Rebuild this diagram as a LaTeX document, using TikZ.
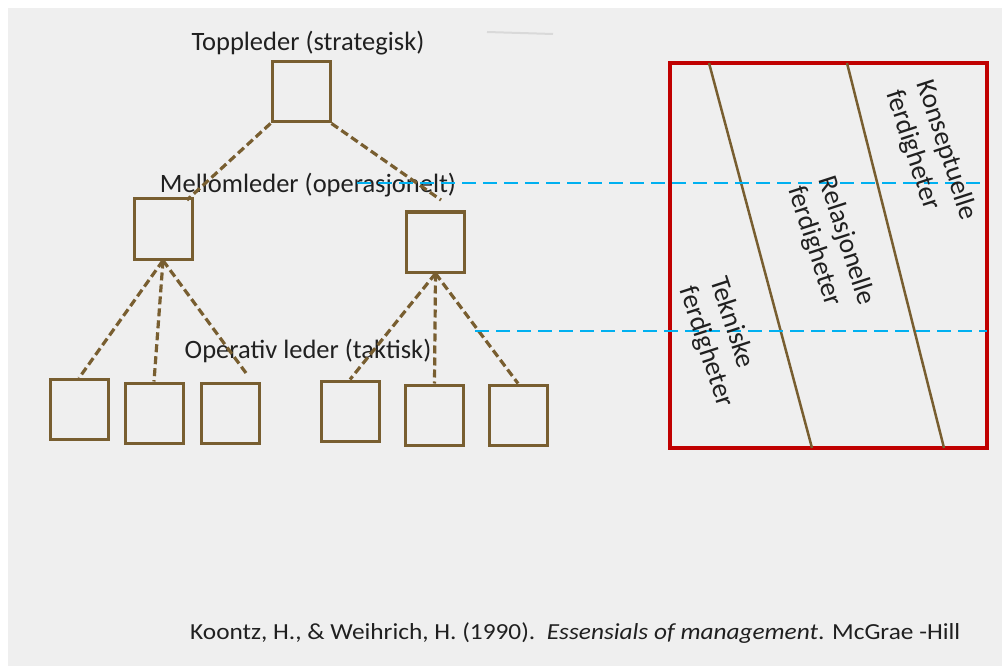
\documentclass[tikz,border=0pt]{standalone}
\usepackage{fontspec}
\setmainfont{Carlito}
\definecolor{bgc}{HTML}{EFEFEF}
\definecolor{brownln}{HTML}{785E30}
\definecolor{skyln}{HTML}{00B0F0}
\definecolor{redframe}{HTML}{C00000}
\definecolor{txt}{HTML}{202020}
\tikzset{
  orgbox/.style={draw=brownln, line width=3pt, minimum width=58pt, minimum height=60pt, inner sep=0pt},
  link/.style={draw=brownln, line width=3.2pt, dash pattern=on 8pt off 4pt},
  levelline/.style={draw=skyln, line width=2pt, dash pattern=on 14pt off 7pt},
  divider/.style={draw=brownln, line width=2.5pt},
  lbl/.style={text=txt, font=\fontsize{26.5}{31}\selectfont, inner sep=0pt},
  skill/.style={text=txt, font=\fontsize{27.5}{32}\selectfont, align=left, rotate=-72, inner sep=0pt}
}
\begin{document}
\begin{tikzpicture}[x=1pt,y=-1pt]
\useasboundingbox (0,0) rectangle (1002,666);
\fill[bgc] (8,8) rectangle (1002,666);
% faint stroke near the top
\draw[line width=2pt, color=black!15] (487,32) -- (553,34);

% level labels
\node[lbl] (ltop) at (308,43) {Toppleder (strategisk)};
\node[lbl] (lmid) at (308,185) {Mellomleder (operasjonelt)};
\node[lbl] (lop) at (308,351) {Operativ leder (taktisk)};

% organisation boxes
\node[orgbox] (top) at (301,92) {};
\node[orgbox] (mL) at (163,229) {};
\node[orgbox] (mR) at (435.5,242) {};
\node[orgbox] (b1) at (79,409.5) {};
\node[orgbox] (b2) at (154,413) {};
\node[orgbox] (b3) at (230.5,413) {};
\node[orgbox] (b4) at (350,411) {};
\node[orgbox] (b5) at (434.5,415) {};
\node[orgbox] (b6) at (518,415) {};

% free ends of some links
\coordinate (eL) at (187,200);
\coordinate (eR) at (441,200);
\coordinate (e3) at (246,373);

% dashed links
\draw[link] (top.south west) -- (eL);
\draw[link] (top.south east) -- (eR);
\draw[link] (mL.south) -- (b1.north);
\draw[link] (mL.south) -- (b2.north);
\draw[link] (mL.south) -- (e3);
\draw[link] (mR.south) -- (b4.north);
\draw[link] (mR.south) -- (b5.north);
\draw[link] (mR.south) -- (b6.north);

% skills frame
\node[draw=redframe, line width=4pt, minimum width=317pt, minimum height=385pt, inner sep=0pt] (frame) at (828.5,255.5) {};
\coordinate (d1a) at (709,63);
\coordinate (d1b) at (812,448);
\coordinate (d2a) at (847,63);
\coordinate (d2b) at (944,448);
\draw[divider] (d1a) -- (d1b);
\draw[divider] (d2a) -- (d2b);

% level guides
\coordinate (g1a) at (357,183);
\coordinate (g1b) at (987,183);
\coordinate (g2a) at (475,331);
\coordinate (g2b) at (987,331);
\draw[levelline] (g1a) -- (g1b);
\draw[levelline] (g2a) -- (g2b);

% skill labels
\node[skill] (sk) at (931,155) {Konseptuelle\\ferdigheter};
\node[skill] (sr) at (831,246) {Relasjonelle\\ferdigheter};
\node[skill] (st) at (721,342) {Tekniske\\ferdigheter};

% reference
\node[text=txt, anchor=west, inner sep=0pt] (ref) at (190,633)
  {\resizebox{770pt}{\height}{\fontsize{23}{27}\selectfont Koontz, H., \& Weihrich, H. (1990).\ \ \textit{Essensials of management}. McGrae -Hill}};
\end{tikzpicture}
\end{document}
